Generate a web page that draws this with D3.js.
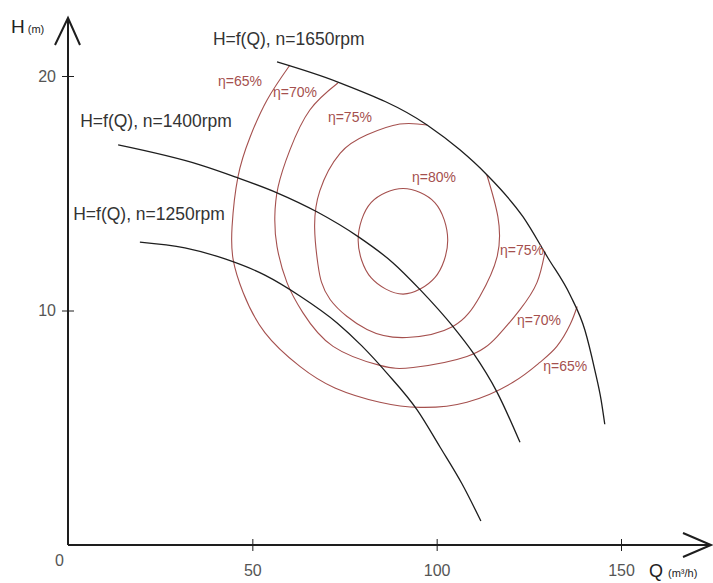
<!DOCTYPE html>
<html>
<head>
<meta charset="utf-8">
<script src="https://cdn.jsdelivr.net/npm/d3@7"></script>
<style>
	body { margin: 0; background: #FFFFFF; }
	#vis_container { width: 713px; height: 583px; }
	text { font-family: "Liberation Sans", Arial, sans-serif; }
</style>
</head>
<body>
<div id="vis_container"></div>
<script>
// pump curves H=f(Q), [Q, H]
var speeds = ["1650", "1400", "1250"];
var curve1650 = [[56.7,20.6],[73.2,19.74],[97.4,17.91],[106.3,16.85],[113.6,15.79],[123.4,14.0],[130.2,12.24],[136.2,10.66],[140.2,9.17],[142.9,7.46],[144.6,6.19],[145.6,5.15]];
var curve1400 = [[13.6,17.06],[35.8,16.21],[45.3,15.7],[56.7,15.02],[67.5,14.21],[78.7,13.15],[88.1,12.04],[95.5,10.89],[104.4,9.32],[109.8,8.21],[116.4,6.51],[122.6,4.38]];
var curve1250 = [[19.5,12.92],[31.7,12.67],[42.6,12.2],[53.4,11.51],[62.9,10.62],[73.0,9.47],[79.7,8.49],[86.5,7.33],[94.7,5.76],[100.9,4.18],[106.9,2.6],[112.0,1.02]];

// efficiency contours, [Q, H]
var eff65 = [[60.2,20.47],[54.0,18.98],[49.4,17.4],[46.1,15.7],[44.5,13.57],[44.8,12.17],[47.5,10.77],[53.4,9.06],[62.9,7.62],[72.4,6.7],[84.6,6.09],[95.5,5.87],[108.2,6.09],[120.7,6.94],[128.0,7.79],[132.6,8.47],[136.2,9.4],[138.1,10.17]];
var eff70 = [[73.2,19.7],[65.6,18.55],[60.2,16.85],[57.0,15.28],[56.1,14.0],[56.7,12.72],[59.4,11.19],[63.7,9.91],[71.9,8.47],[84.6,7.66],[93.6,7.57],[108.2,8.04],[116.4,8.89],[122.6,10.04],[127.2,11.19],[129.4,12.51]];
var eff75 = [[97.4,17.91],[90.0,17.95],[81.1,17.49],[73.8,16.7],[68.3,15.1],[66.9,13.53],[67.8,11.96],[71.1,10.47],[81.1,9.19],[91.9,8.85],[104.4,9.32],[111.7,10.6],[116.4,12.3],[116.6,14.0],[113.6,15.79]];
var eff80 = [[90.9,15.2],[99.5,14.6],[103.0,13.0],[99.5,11.4],[90.9,10.7],[82.2,11.4],[78.7,13.0],[82.2,14.6]];

// axis ticks
var xTicks = [50, 100, 150];
var yTicks = [10, 20];

// label anchors [Q, H]
var curveLabelPos = [[39.3,21.32],[3.3,17.83],[1.4,13.87]];
var effLabelPos = [[40.7,19.57],[55.6,19.11],[70.5,18.04],[93.3,15.49],[117.2,12.38],[121.8,9.40],[128.9,7.40]];
var effLabelLevel = [65, 70, 75, 80, 75, 70, 65];

var chart = {};
chart.width = 713;
chart.height = 583;
chart.black = "#1e1e1e";
chart.red = "#a5504e";

chart.svg = d3.select("#vis_container").append("svg")
	.attr("width", chart.width)
	.attr("height", chart.height)
	.style("background-color", "#FFFFFF");

chart.x = d3.scaleLinear().domain([0, 150]).range([68, 621]);
chart.y = d3.scaleLinear().domain([0, 20]).range([545, 76]);

var x = chart.x, y = chart.y;

function makeLine(curve) {
	return d3.line()
		.x(function(d) { return x(d[0]); })
		.y(function(d) { return y(d[1]); })
		.curve(curve);
}

// efficiency contours
[eff65, eff70, eff75].forEach(function(c) {
	chart.svg.append("path")
		.attr("d", makeLine(d3.curveNatural)(c))
		.attr("fill", "none")
		.attr("stroke", chart.red)
		.attr("stroke-width", 1.1);
});
chart.svg.append("path")
	.attr("d", makeLine(d3.curveCatmullRomClosed.alpha(0.5))(eff80))
	.attr("fill", "none")
	.attr("stroke", chart.red)
	.attr("stroke-width", 1.1);

// pump curves
[curve1650, curve1400, curve1250].forEach(function(c) {
	chart.svg.append("path")
		.attr("d", makeLine(d3.curveMonotoneX)(c))
		.attr("fill", "none")
		.attr("stroke", chart.black)
		.attr("stroke-width", 1.3);
});

// axes
var x0 = x(0), y0 = y(0);
chart.svg.append("line")
	.attr("x1", x0).attr("y1", y0).attr("x2", x0).attr("y2", 18)
	.attr("stroke", chart.black).attr("stroke-width", 2);
chart.svg.append("line")
	.attr("x1", x0).attr("y1", y0).attr("x2", 711).attr("y2", y0)
	.attr("stroke", chart.black).attr("stroke-width", 2);
chart.svg.append("path")
	.attr("d", "M" + (x0 - 13) + ",45L" + x0 + ",18L" + (x0 + 12) + ",45")
	.attr("fill", "none").attr("stroke", chart.black).attr("stroke-width", 2);
chart.svg.append("path")
	.attr("d", "M683," + (y0 - 12) + "L711," + y0 + "L683," + (y0 + 12))
	.attr("fill", "none").attr("stroke", chart.black).attr("stroke-width", 2);

chart.xAxis = chart.svg.append("g")
	.attr("transform", "translate(0," + y0 + ")")
	.call(d3.axisBottom(x).tickValues(xTicks).tickSize(6).tickPadding(14));
chart.xAxis.selectAll(".tick line").attr("y1", -6).attr("stroke", chart.black);
chart.xAxis.selectAll(".tick text")
	.attr("font-size", 16).attr("fill", "#555")
	.attr("font-family", "'Liberation Sans', Arial, sans-serif");

chart.yAxis = chart.svg.append("g")
	.attr("transform", "translate(" + x0 + ",0)")
	.call(d3.axisLeft(y).tickValues(yTicks).tickSize(6).tickPadding(6));
chart.yAxis.selectAll(".tick line").attr("x1", 6).attr("stroke", chart.black);
chart.yAxis.selectAll(".tick text")
	.attr("font-size", 16).attr("fill", "#555")
	.attr("font-family", "'Liberation Sans', Arial, sans-serif");
chart.svg.selectAll(".domain").remove();

chart.svg.append("text")
	.attr("x", x0 - 4).attr("y", y0 + 21)
	.attr("text-anchor", "end")
	.attr("font-size", 16).attr("fill", "#555")
	.text("0");

// axis titles
var hTitle = chart.svg.append("text").attr("x", 11).attr("y", 33).attr("fill", "#222");
hTitle.append("tspan").attr("font-size", 19).text("H");
hTitle.append("tspan").attr("font-size", 11).attr("dx", 3).text("(m)");

var qTitle = chart.svg.append("text").attr("x", 649).attr("y", 577).attr("fill", "#222");
qTitle.append("tspan").attr("font-size", 18).text("Q");
qTitle.append("tspan").attr("font-size", 11).attr("dx", 5).text("(m³/h)");

// curve labels
speeds.forEach(function(s, i) {
	chart.svg.append("text")
		.attr("x", x(curveLabelPos[i][0]))
		.attr("y", y(curveLabelPos[i][1]))
		.attr("font-size", 17.5)
		.attr("fill", "#333")
		.text("H=f(Q), n=" + s + "rpm");
});

// efficiency labels
effLabelPos.forEach(function(p, i) {
	chart.svg.append("text")
		.attr("x", x(p[0]))
		.attr("y", y(p[1]))
		.attr("font-size", 14)
		.attr("fill", chart.red)
		.text("η=" + effLabelLevel[i] + "%");
});
</script>
</body>
</html>
